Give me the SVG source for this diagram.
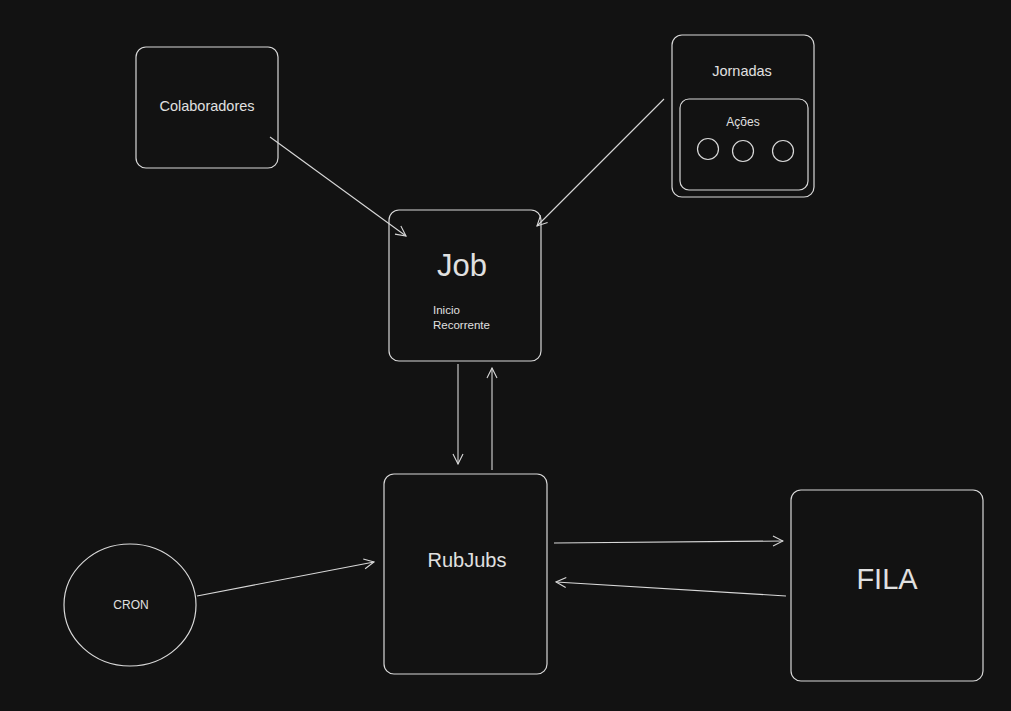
<svg xmlns="http://www.w3.org/2000/svg" width="1011" height="711" viewBox="0 0 1011 711">
<defs>
<style>
.box{fill:#121212;stroke:#d8d8d8;stroke-width:1.2}
.ln{fill:none;stroke:#d8d8d8;stroke-width:1.1}
text{fill:#e0e0e0;font-family:"Liberation Sans","DejaVu Sans",sans-serif;text-anchor:middle;dominant-baseline:central}
</style>
<marker id="ah" viewBox="0 0 12 12" refX="11" refY="6" markerWidth="12" markerHeight="12" markerUnits="userSpaceOnUse" orient="auto">
<path d="M1,1 L11,6 L1,11" fill="none" stroke="#d8d8d8" stroke-width="1.1"/>
</marker>
</defs>
<rect width="1011" height="711" fill="#121212"/>
<g id="colaboradores">
<rect class="box" x="136" y="47" width="142" height="121" rx="10"/>
<text x="207" y="106" font-size="14.5">Colaboradores</text>
</g>
<g id="jornadas">
<rect class="box" x="672" y="35" width="142" height="162" rx="10"/>
<text x="742" y="71" font-size="14.5">Jornadas</text>
<g id="acoes">
<rect class="box" x="680" y="99" width="128" height="91" rx="9"/>
<text x="743" y="122" font-size="12">Ações</text>
<circle class="box" cx="708" cy="149" r="10.5"/>
<circle class="box" cx="743" cy="151" r="10.5"/>
<circle class="box" cx="783" cy="151" r="10.5"/>
</g>
</g>
<g id="job">
<rect class="box" x="389" y="210" width="152" height="151" rx="10"/>
<text x="462" y="265" font-size="31">Job</text>
<text x="433" y="310" font-size="11.5" style="text-anchor:start">Inicio</text>
<text x="433" y="325" font-size="11.5" style="text-anchor:start">Recorrente</text>
</g>
<g id="rubjubs">
<rect class="box" x="384" y="474" width="163" height="200" rx="10"/>
<text x="467" y="560" font-size="20">RubJubs</text>
</g>
<g id="fila">
<rect class="box" x="791" y="490" width="192" height="191" rx="10"/>
<text x="887" y="579" font-size="29">FILA</text>
</g>
<g id="cron">
<ellipse class="box" cx="130" cy="605" rx="66" ry="61"/>
<text x="131" y="605" font-size="12">CRON</text>
</g>
<g id="connectors">
<path class="ln" d="M270,137 L406,236" marker-end="url(#ah)"/>
<path class="ln" d="M664,99 L537,226" marker-end="url(#ah)"/>
<path class="ln" d="M458,364 L458,464" marker-end="url(#ah)"/>
<path class="ln" d="M492,470 L492,368" marker-end="url(#ah)"/>
<path class="ln" d="M197,596 L374,562" marker-end="url(#ah)"/>
<path class="ln" d="M554,543 L783,541" marker-end="url(#ah)"/>
<path class="ln" d="M786,596 L556,582" marker-end="url(#ah)"/>
</g>
</svg>
